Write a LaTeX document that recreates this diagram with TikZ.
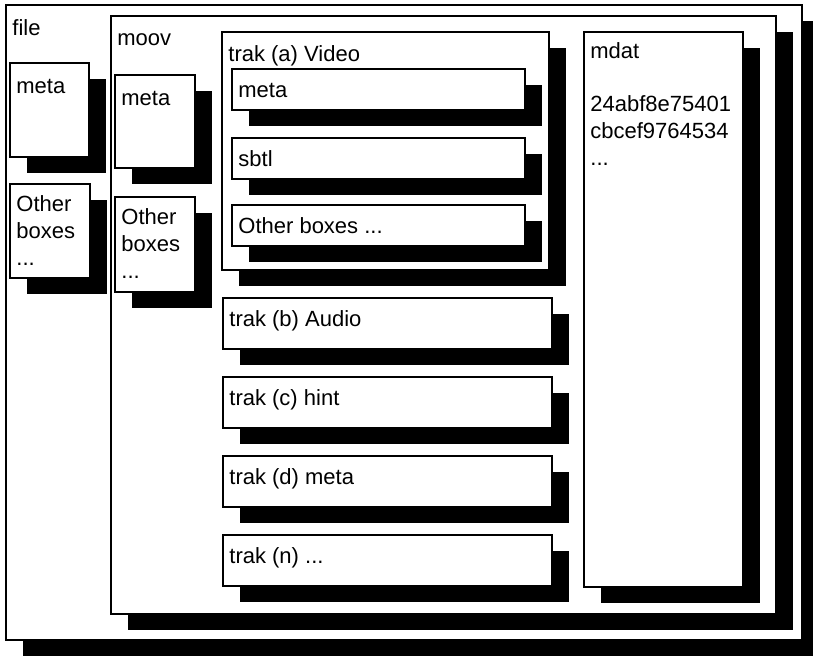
\documentclass[tikz,border=0pt]{standalone}
\usepackage{fontspec}
\setsansfont{Liberation Sans}
\usetikzlibrary{fit, calc, shadows}

\tikzset{
  isobox/.style={draw=black, fill=white, line width=1.6pt, inner sep=0pt,
    drop shadow={shadow xshift=17pt, shadow yshift=-16pt, fill=black, opacity=1}},
  boxlabel/.style={anchor=north west, inner sep=0pt, align=left,
    font=\fontsize{22}{27}\sffamily, execute at begin node=\strut},
}

\begin{document}
\begin{tikzpicture}[x=1pt, y=-1pt]
\useasboundingbox (0,0) rectangle (813,657);
% file level
\node[isobox, fit={(6,5) (802,640)}] (file) {};
\node[boxlabel] (filelbl) at ($(file.north west)+(7,12)$) {file};
\node[isobox, fit={(10,63) (89,157)}] (filemeta) {};
\node[boxlabel] (filemetalbl) at ($(filemeta.north west)+(7,12)$) {meta};
\node[isobox, fit={(10,184) (90,278)}] (fileother) {};
\node[boxlabel] (fileotherlbl) at ($(fileother.north west)+(7,12)$) {Other\\boxes\\...};
% moov
\node[isobox, fit={(111,16) (776,614)}] (moov) {};
\node[boxlabel] (moovlbl) at ($(moov.north west)+(7,11)$) {moov};
\node[isobox, fit={(115,75) (195,168)}] (moovmeta) {};
\node[boxlabel] (moovmetalbl) at ($(moovmeta.north west)+(7,12)$) {meta};
\node[isobox, fit={(115,197) (195,292)}] (moovother) {};
\node[boxlabel] (moovotherlbl) at ($(moovother.north west)+(7,12)$) {Other\\boxes\\...};
% video track with its own boxes
\node[isobox, fit={(222,32) (549,270)}] (traka) {};
\node[boxlabel] (trakalbl) at ($(traka.north west)+(7,11)$) {trak (a) Video};
\foreach \ty/\id/\txt in {69/meta/meta, 138/sbtl/sbtl, 205/other/{Other boxes ...}}{
  \node[isobox, fit={(232,\ty) (525,\ty+41)}] (traka\id) {};
  \node[boxlabel] (traka\id lbl) at ($(traka\id.north west)+(7,10)$) {\txt};
}
% remaining tracks
\foreach \ty/\id/\txt in {298/b/{trak (b) Audio}, 377/c/{trak (c) hint},
                          456/d/{trak (d) meta}, 535/n/{trak (n) ...}}{
  \node[isobox, fit={(223,\ty) (552,\ty+51)}] (trak\id) {};
  \node[boxlabel] (trak\id lbl) at ($(trak\id.north west)+(7,10)$) {\txt};
}
% media data
\node[isobox, fit={(584,32) (743,587)}] (mdat) {};
\node[boxlabel] (mdatlbl) at ($(mdat.north west)+(7,11)$)
  {mdat\\[26pt]24abf8e75401\\cbcef9764534\\...};
\end{tikzpicture}
\end{document}
